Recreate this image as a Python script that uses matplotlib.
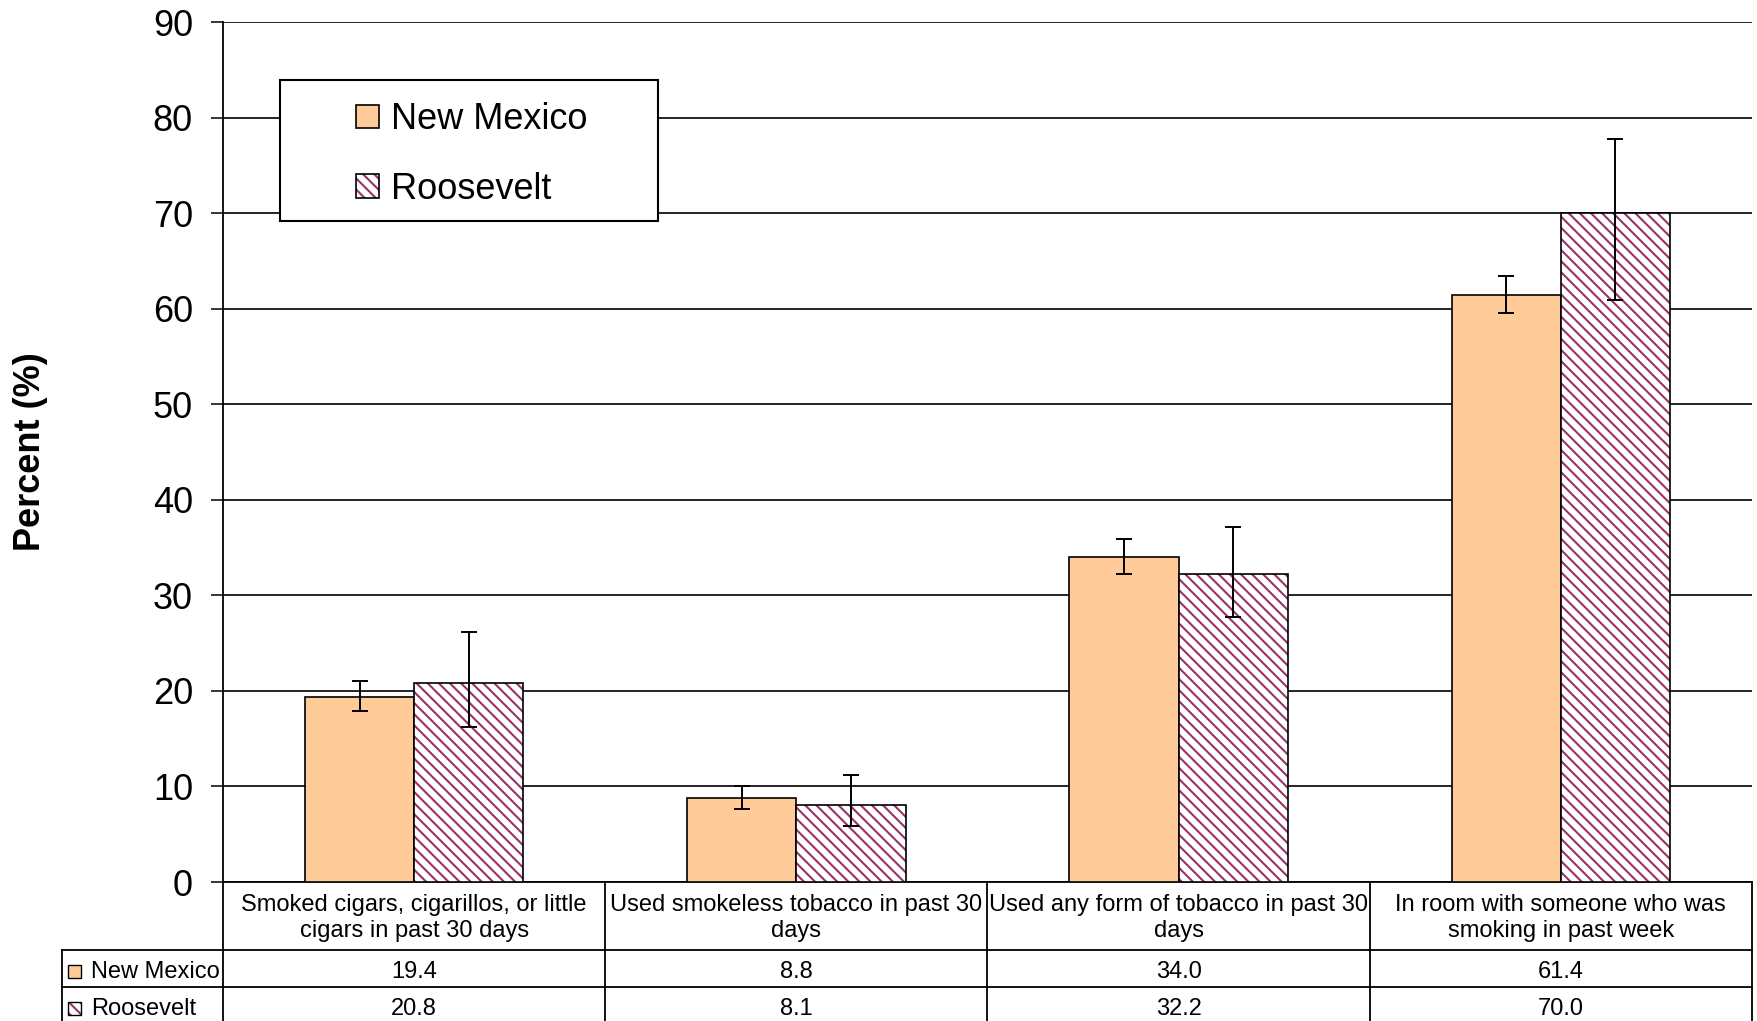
import matplotlib
matplotlib.use('Agg')
import matplotlib.pyplot as plt
from matplotlib.patches import Rectangle, Patch
from matplotlib.transforms import blended_transform_factory
import numpy as np

plt.rcParams['font.family'] = ['Liberation Sans', 'DejaVu Sans']
plt.rcParams['hatch.linewidth'] = 1.5

# ---------------- data ----------------
categories = [
    "Smoked cigars, cigarillos, or little\ncigars in past 30 days",
    "Used smokeless tobacco in past 30\ndays",
    "Used any form of tobacco in past 30\ndays",
    "In room with someone who was\nsmoking in past week",
]
series = ["New Mexico", "Roosevelt"]
nm_values = [19.4, 8.8, 34.0, 61.4]
rv_values = [20.8, 8.1, 32.2, 70.0]
nm_low = [17.9, 7.6, 32.2, 59.5]
nm_high = [21.0, 10.0, 35.9, 63.4]
rv_low = [16.2, 5.9, 27.7, 60.9]
rv_high = [26.2, 11.2, 37.1, 77.8]
yticks = [0, 10, 20, 30, 40, 50, 60, 70, 80, 90]

# ---------------- style ----------------
NM_COLOR = '#FFCC99'
RV_HATCH = '#993366'
HATCH = '\\\\\\'

W, H = 1758, 1021
fig = plt.figure(figsize=(W / 100, H / 100), dpi=100)
ax = fig.add_axes([223 / W, (H - 882) / H, (1752 - 223) / W, (882 - 22) / H])

x = np.arange(len(categories))
bw = 1 / 3.5
nm = np.array(nm_values)
rv = np.array(rv_values)

ax.bar(x - bw / 2, nm, bw, color=NM_COLOR, edgecolor='black', linewidth=1.2, zorder=3)
ax.bar(x + bw / 2, rv, bw, color='white', edgecolor=RV_HATCH, hatch=HATCH, linewidth=0, zorder=3)
ax.bar(x + bw / 2, rv, bw, color='none', edgecolor='black', linewidth=1.2, zorder=3.5)

ax.errorbar(x - bw / 2, nm, yerr=[nm - np.array(nm_low), np.array(nm_high) - nm],
            fmt='none', ecolor='black', elinewidth=1.4, capsize=5.8, capthick=1.4, zorder=4)
ax.errorbar(x + bw / 2, rv, yerr=[rv - np.array(rv_low), np.array(rv_high) - rv],
            fmt='none', ecolor='black', elinewidth=1.4, capsize=5.8, capthick=1.4, zorder=4)

ax.set_xlim(-0.5, len(categories) - 0.5)
ax.set_ylim(yticks[0], yticks[-1])
ax.set_yticks(yticks)
ax.set_xticks([])
ax.yaxis.grid(True, color='black', linewidth=1.2)
ax.set_axisbelow(True)
ax.tick_params(axis='y', direction='out', length=8.6, width=1.1, labelsize=26, pad=13)
for s in ['top', 'right']:
    ax.spines[s].set_visible(False)
for s in ['left', 'bottom']:
    ax.spines[s].set_linewidth(1.3)
    ax.spines[s].set_clip_on(False)

ax.set_ylabel('Percent (%)', fontsize=26, fontweight='bold')
ax.yaxis.set_label_coords(-0.1145, 0.5)

# ---------------- legend ----------------
box = Rectangle((280 / W, 1 - 221 / H), 378 / W, 141 / H, transform=fig.transFigure,
                facecolor='white', edgecolor='black', linewidth=1.5, zorder=5, clip_on=False)
ax.add_patch(box)
h_nm = Patch(facecolor=NM_COLOR, edgecolor='black', linewidth=1.2)
h_rv = (Patch(facecolor='white', edgecolor=RV_HATCH, hatch=HATCH, linewidth=0),
        Patch(facecolor='none', edgecolor='black', linewidth=1.2))
leg = ax.legend([h_nm, h_rv], series, loc='center', frameon=False, fontsize=26,
                bbox_to_anchor=(472 / W, 1 - 154.5 / H), bbox_transform=fig.transFigure,
                handlelength=0.62, handleheight=0.62, handletextpad=0.35, labelspacing=0.96)
leg.set_zorder(6)

# ---------------- data table ----------------
trans = blended_transform_factory(ax.transData, ax.transAxes)
ax_h = 882 - 22
hdr_h = 68 / ax_h
row_h = 37 / ax_h
label_left = -0.5 - 161 / 382.25
x_right = len(categories) - 0.5
bottom = -hdr_h - 2 * row_h
lkw = dict(color='black', linewidth=1.3, transform=trans, clip_on=False)

for k in range(3):
    yy = -hdr_h - k * row_h
    ax.plot([label_left, x_right], [yy, yy], **lkw)
ax.plot([label_left, label_left], [-hdr_h, bottom], **lkw)
for b in np.arange(len(categories) + 1) - 0.5:
    ax.plot([b, b], [0, bottom], **lkw)

for i, cat in enumerate(categories):
    ax.text(i, -hdr_h / 2 - 2 / ax_h, cat, transform=trans, ha='center', va='center',
            fontsize=17, linespacing=1.25, clip_on=False)
rows = [nm_values, rv_values]
txt_shift = 3 / ax_h
for j, vals in enumerate(rows):
    yc = -hdr_h - row_h * (j + 0.5)
    for i, v in enumerate(vals):
        ax.text(i, yc - txt_shift, f'{v:.1f}', transform=trans, ha='center', va='center',
                fontsize=17, clip_on=False)
    # key square
    kx = label_left + 6 / 382.25
    kw = 13 / 382.25
    kh = 13 / ax_h
    ky = yc - txt_shift - kh / 2
    if j == 0:
        ax.add_patch(Rectangle((kx, ky), kw, kh, transform=trans, facecolor=NM_COLOR,
                               edgecolor='black', linewidth=1.0, clip_on=False))
    else:
        ax.add_patch(Rectangle((kx, ky), kw, kh, transform=trans, facecolor='white',
                               edgecolor=RV_HATCH, hatch=HATCH, linewidth=0, clip_on=False))
        ax.add_patch(Rectangle((kx, ky), kw, kh, transform=trans, facecolor='none',
                               edgecolor='black', linewidth=1.0, clip_on=False))
    ax.text(label_left + 29 / 382.25, yc - txt_shift, series[j], transform=trans, ha='left',
            va='center', fontsize=17, clip_on=False)

fig.savefig('out.png', dpi=100)
